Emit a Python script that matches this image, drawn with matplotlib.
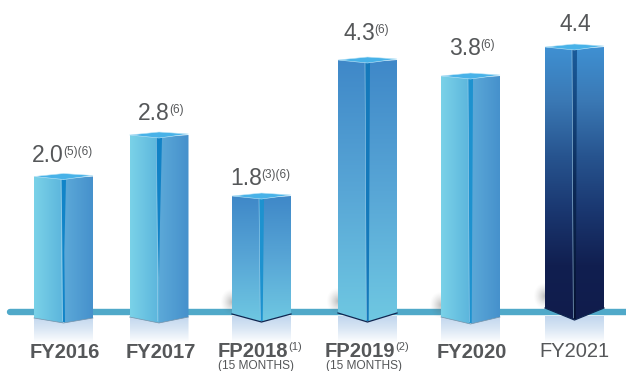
import numpy as np
import matplotlib
matplotlib.use("Agg")
import matplotlib.pyplot as plt
from matplotlib.colors import LinearSegmentedColormap as LSC
from matplotlib.patches import Polygon

categories = ["FY2016", "FY2017", "FP2018", "FP2019", "FY2020", "FY2021"]
values = ["2.0", "2.8", "1.8", "4.3", "3.8", "4.4"]
value_notes = ["(5)(6)", "(6)", "(3)(6)", "(6)", "(6)", ""]
category_notes = ["", "", "(1)", "(2)", "", ""]
category_subs = ["", "", "(15 MONTHS)", "(15 MONTHS)", "", ""]
# Drawn bar heights (the artwork is not to linear scale)
drawn_heights = [135.5, 177, 116, 252, 236, 265]

centers = [63.5, 159, 261.5, 367.5, 470.5, 574.5]
half_w = 29.5
corner_drop = [6, 5, 2, 1, 5, -4]
tip_drop = [11, 11, 10, 10, 12, 8]
styles = ["h", "h", "v", "v", "h", "d"]
grooves = ["long", "short", "strip", "strip", "strip", "dark"]
val_x = [32, 138, 230, 343, 449, 560]
val_base = [162, 120, 185, 40, 55, 31]
cat_x = [30, 126, 218, 325, 437, 539]
cat_base = [358, 358, 357, 357, 358, 357]
cat_bold = [True, True, True, True, True, False]

FONT = "Liberation Sans"
TXT = "#555759"
W, H, BASE = 626, 371, 312
fig = plt.figure(figsize=(W / 100, H / 100), dpi=100)
ax = fig.add_axes([0, 0, 1, 1])
ax.set_axis_off()
Y = lambda p: BASE - p  # pixel row to data height


def grad(poly, colors, vertical, ext, z):
    cm = LSC.from_list("g", colors)
    a = np.linspace(0, 1, 256)
    arr = a[:, None] if vertical else a[None, :]
    im = ax.imshow(arr, cmap=cm, extent=ext, origin="upper", aspect="auto",
                   zorder=z, interpolation="bilinear")
    pp = Polygon(poly, closed=True, transform=ax.transData, fc="none", ec="none")
    ax.add_patch(pp)
    im.set_clip_path(pp)


# axis line
ax.plot([10, W + 5], [0, 0], color="#50a9c9", lw=4.6, solid_capstyle="round", zorder=1)

for i, h in enumerate(drawn_heights):
    c = centers[i]
    x0, x1 = c - half_w, c + half_w
    corner = -corner_drop[i]
    tip = -tip_drop[i]
    # reflection
    grad([(x0, corner), (c, tip), (x1, corner), (x1, -31), (x0, -31)],
         ["#c0d6ee", "#dce8f5", "#ffffff"], True, (x0, x1, -31, -4), 2)
    # soft shadow on the left
    if styles[i] != "h" or i == 4:
        yy, xx = np.mgrid[-1:1:60j, -1:1:60j]
        al = np.clip(1 - np.sqrt(xx ** 2 + yy ** 2), 0, 1) ** 1.4 * 0.4
        rgba = np.zeros((60, 60, 4))
        rgba[..., :3] = 0.35
        rgba[..., 3] = al
        ax.imshow(rgba, extent=(x0 - 12, x0 + 12, corner - 2, corner + 26), origin="upper",
                  aspect="auto", zorder=3)
    left = [(x0, corner), (c, tip), (c, h - 2), (x0, h)]
    right = [(c, tip), (x1, corner), (x1, h), (c, h - 2)]
    ext = (x0, x1, tip, h)
    if styles[i] == "h":
        grad(left, ["#7ad2e8", "#5bb4dc"], False, (x0, c, tip, h), 4)
        grad(right, ["#5ca9d8", "#4590cc"], False, (c, x1, tip, h), 4)
    elif styles[i] == "v":
        cols = ["#3f88c8", "#58a6d6", "#6fc8e2"]
        grad(left, cols, True, ext, 4)
        grad(right, cols, True, ext, 4)
    else:
        cols = ["#3f90d2", "#3a78b4", "#27548f", "#1a3770", "#111f50", "#101c4c"]
        grad(left, cols, True, ext, 4)
        grad(right, cols, True, ext, 4)
    # central groove
    g = grooves[i]
    if g == "long":
        ax.add_patch(Polygon([(c - 2, h - 3), (c + 2.5, h - 3), (c + 0.8, 60), (c + 1.5, tip + 1),
                              (c - 0.5, tip + 1), (c - 1, 60)], fc="#1184c8", ec="none", zorder=5))
    elif g == "short":
        ax.add_patch(Polygon([(c - 3, h - 3), (c + 3, h - 3), (c + 1, 90), (c, 35), (c - 1.5, 90)],
                             fc="#1182c6", ec="none", zorder=5))
    elif g == "strip":
        ax.add_patch(Polygon([(c - 2.5, h - 3), (c + 2.5, h - 3), (c + 1.2, tip + 1), (c - 1.2, tip + 1)],
                             fc="#1d92cf" if i != 3 else "#1479bb", ec="none", zorder=5))
    else:
        cm = ["#1a5c9c", "#0c2a58", "#05102e"]
        grad([(c - 2.5, h - 3), (c + 2.5, h - 3), (c + 1.2, tip + 1), (c - 1.2, tip + 1)], cm, True,
             (c - 3, c + 3, tip, h), 5)
    ax.plot([c - 2.5, c - 1.2], [h - 3, tip + 2], color="#a8d4ee", lw=0.4, zorder=6)
    # top face
    ax.add_patch(Polygon([(x0, h), (c, h + 3), (x1, h + 1), (c, h - 3)], fc="#48b2e8",
                         ec="#bfe6f7", lw=0.4, zorder=6))
    if styles[i] != "h":
        ax.plot([x0, c, x1], [corner, tip, corner], color="#0f2550", lw=0.9, zorder=6)
    else:
        ax.plot([x0, c, x1], [corner, tip, corner], color="#6f8fa8", lw=0.5, zorder=6)

ax.set_xlim(0, W)
ax.set_ylim(Y(H), Y(0))

fig.canvas.draw()
rend = fig.canvas.get_renderer()
inv = ax.transData.inverted()


def with_note(x, base, main, note, size, nsize, raise_px, bold=False):
    t = ax.text(x, Y(base), main, fontsize=size, family=FONT, color=TXT, va="baseline", ha="left",
                fontweight="bold" if bold else "normal", zorder=8)
    if note:
        end = inv.transform(t.get_window_extent(rend).get_points())[1, 0]
        ax.text(end - 0.5, Y(base - raise_px), note, fontsize=nsize, family=FONT, color=TXT,
                va="baseline", ha="left", zorder=8)


for i in range(len(values)):
    with_note(val_x[i], val_base[i], values[i], value_notes[i], 16.5, 8.5, 7)
    with_note(cat_x[i], cat_base[i], categories[i], category_notes[i], 14.5, 8, 7, bold=cat_bold[i])
    if category_subs[i]:
        ax.text(centers[i] - 6 if i == 2 else centers[i] - 4, Y(368.5), category_subs[i],
                fontsize=8.6, family=FONT, color=TXT, va="baseline", ha="center", zorder=8)

fig.savefig("out.png", dpi=100)
